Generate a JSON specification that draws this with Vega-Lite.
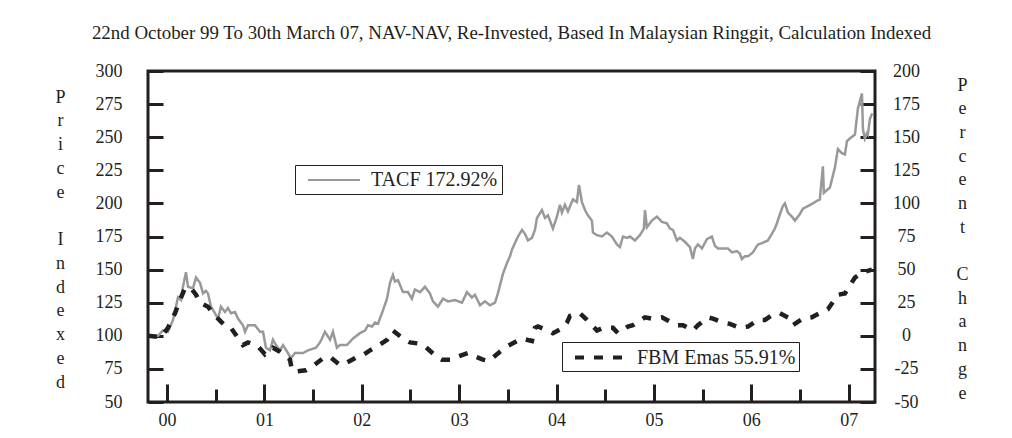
{
  "$schema": "https://vega.github.io/schema/vega-lite/v6.json",
  "width": 727,
  "height": 331,
  "autosize": {"type": "none"},
  "padding": {"left": 148, "top": 71, "right": 137, "bottom": 36},
  "background": "white",
  "title": {
    "text": "22nd October 99 To 30th March 07, NAV-NAV, Re-Invested, Based In Malaysian Ringgit, Calculation Indexed",
    "font": "Liberation Serif",
    "fontSize": 18.9,
    "fontWeight": "normal",
    "color": "#231f20",
    "baseline": "alphabetic",
    "anchor": "middle",
    "frame": "group",
    "offset": 4
  },
  "config": {
    "view": {"stroke": "#231f20", "strokeWidth": 3},
    "axis": {
      "domain": false,
      "grid": false,
      "labelFont": "Liberation Serif",
      "labelFontSize": 18,
      "labelColor": "#231f20",
      "labelFlush": false,
      "labelOverlap": false,
      "tickColor": "#231f20",
      "tickWidth": 3,
      "titleFont": "Liberation Serif",
      "titleFontSize": 18,
      "titleFontWeight": "normal",
      "titleColor": "#231f20"
    },
    "legend": {
      "labelFont": "Liberation Serif",
      "labelFontSize": 20,
      "labelColor": "#231f20",
      "strokeColor": "#231f20",
      "fillColor": "white",
      "orient": "none",
      "title": null
    }
  },
  "datasets": {
    "tacf": [
      {"t": 1999.805, "v": 100}, {"t": 1999.908, "v": 100}, {"t": 1999.959, "v": 104}, {"t": 2000.01, "v": 103},
      {"t": 2000.062, "v": 112}, {"t": 2000.092, "v": 122}, {"t": 2000.113, "v": 129}, {"t": 2000.144, "v": 127},
      {"t": 2000.164, "v": 137}, {"t": 2000.195, "v": 148}, {"t": 2000.216, "v": 137}, {"t": 2000.267, "v": 136},
      {"t": 2000.298, "v": 144}, {"t": 2000.339, "v": 140}, {"t": 2000.37, "v": 132}, {"t": 2000.4, "v": 134},
      {"t": 2000.421, "v": 132}, {"t": 2000.452, "v": 122}, {"t": 2000.493, "v": 117}, {"t": 2000.524, "v": 113},
      {"t": 2000.554, "v": 122}, {"t": 2000.595, "v": 118}, {"t": 2000.626, "v": 121}, {"t": 2000.657, "v": 117},
      {"t": 2000.698, "v": 118}, {"t": 2000.729, "v": 113}, {"t": 2000.78, "v": 108}, {"t": 2000.801, "v": 103},
      {"t": 2000.832, "v": 108}, {"t": 2000.903, "v": 108}, {"t": 2000.955, "v": 103}, {"t": 2000.986, "v": 103},
      {"t": 2001.016, "v": 91}, {"t": 2001.057, "v": 89}, {"t": 2001.088, "v": 97}, {"t": 2001.119, "v": 93},
      {"t": 2001.16, "v": 89}, {"t": 2001.191, "v": 93}, {"t": 2001.242, "v": 87}, {"t": 2001.273, "v": 83},
      {"t": 2001.314, "v": 87}, {"t": 2001.396, "v": 87}, {"t": 2001.448, "v": 89}, {"t": 2001.53, "v": 91},
      {"t": 2001.571, "v": 95}, {"t": 2001.591, "v": 98}, {"t": 2001.622, "v": 103}, {"t": 2001.674, "v": 97},
      {"t": 2001.704, "v": 103}, {"t": 2001.745, "v": 91}, {"t": 2001.776, "v": 93}, {"t": 2001.848, "v": 93},
      {"t": 2001.91, "v": 98}, {"t": 2001.982, "v": 102}, {"t": 2002.033, "v": 104}, {"t": 2002.064, "v": 108},
      {"t": 2002.105, "v": 107}, {"t": 2002.136, "v": 110}, {"t": 2002.166, "v": 109}, {"t": 2002.207, "v": 117},
      {"t": 2002.259, "v": 128}, {"t": 2002.29, "v": 140}, {"t": 2002.32, "v": 146}, {"t": 2002.341, "v": 141},
      {"t": 2002.372, "v": 142}, {"t": 2002.423, "v": 133}, {"t": 2002.474, "v": 133}, {"t": 2002.515, "v": 128},
      {"t": 2002.546, "v": 135}, {"t": 2002.598, "v": 133}, {"t": 2002.649, "v": 137}, {"t": 2002.7, "v": 132},
      {"t": 2002.731, "v": 126}, {"t": 2002.782, "v": 122}, {"t": 2002.834, "v": 128}, {"t": 2002.885, "v": 126},
      {"t": 2002.957, "v": 127}, {"t": 2003.029, "v": 125}, {"t": 2003.08, "v": 133}, {"t": 2003.131, "v": 129},
      {"t": 2003.162, "v": 131}, {"t": 2003.214, "v": 123}, {"t": 2003.265, "v": 126}, {"t": 2003.316, "v": 123},
      {"t": 2003.368, "v": 125}, {"t": 2003.398, "v": 132}, {"t": 2003.45, "v": 147}, {"t": 2003.491, "v": 155},
      {"t": 2003.522, "v": 160}, {"t": 2003.542, "v": 165}, {"t": 2003.573, "v": 170}, {"t": 2003.604, "v": 175},
      {"t": 2003.645, "v": 180}, {"t": 2003.676, "v": 177}, {"t": 2003.706, "v": 172}, {"t": 2003.747, "v": 174},
      {"t": 2003.778, "v": 180}, {"t": 2003.799, "v": 189}, {"t": 2003.85, "v": 195}, {"t": 2003.881, "v": 189},
      {"t": 2003.912, "v": 191}, {"t": 2003.963, "v": 181}, {"t": 2004.004, "v": 190}, {"t": 2004.035, "v": 199},
      {"t": 2004.055, "v": 193}, {"t": 2004.086, "v": 199}, {"t": 2004.117, "v": 194}, {"t": 2004.168, "v": 203},
      {"t": 2004.209, "v": 201}, {"t": 2004.23, "v": 214}, {"t": 2004.261, "v": 201}, {"t": 2004.292, "v": 195},
      {"t": 2004.322, "v": 191}, {"t": 2004.363, "v": 187}, {"t": 2004.374, "v": 178}, {"t": 2004.415, "v": 176},
      {"t": 2004.466, "v": 175}, {"t": 2004.517, "v": 178}, {"t": 2004.569, "v": 175}, {"t": 2004.62, "v": 169},
      {"t": 2004.651, "v": 167}, {"t": 2004.682, "v": 175}, {"t": 2004.723, "v": 174}, {"t": 2004.754, "v": 175},
      {"t": 2004.805, "v": 172}, {"t": 2004.856, "v": 176}, {"t": 2004.897, "v": 181}, {"t": 2004.908, "v": 195},
      {"t": 2004.928, "v": 182}, {"t": 2004.979, "v": 187}, {"t": 2005.031, "v": 190}, {"t": 2005.082, "v": 186},
      {"t": 2005.133, "v": 185}, {"t": 2005.164, "v": 181}, {"t": 2005.195, "v": 180}, {"t": 2005.236, "v": 172},
      {"t": 2005.267, "v": 174}, {"t": 2005.318, "v": 171}, {"t": 2005.37, "v": 167}, {"t": 2005.4, "v": 158},
      {"t": 2005.421, "v": 166}, {"t": 2005.452, "v": 169}, {"t": 2005.493, "v": 166}, {"t": 2005.544, "v": 173},
      {"t": 2005.595, "v": 175}, {"t": 2005.626, "v": 168}, {"t": 2005.657, "v": 166}, {"t": 2005.708, "v": 166},
      {"t": 2005.76, "v": 166}, {"t": 2005.801, "v": 163}, {"t": 2005.852, "v": 164}, {"t": 2005.883, "v": 162},
      {"t": 2005.903, "v": 158}, {"t": 2005.934, "v": 160}, {"t": 2005.965, "v": 160}, {"t": 2006.016, "v": 163},
      {"t": 2006.068, "v": 169}, {"t": 2006.109, "v": 170}, {"t": 2006.17, "v": 172}, {"t": 2006.211, "v": 177},
      {"t": 2006.242, "v": 181}, {"t": 2006.263, "v": 185}, {"t": 2006.294, "v": 192}, {"t": 2006.324, "v": 198},
      {"t": 2006.345, "v": 200}, {"t": 2006.376, "v": 193}, {"t": 2006.417, "v": 190}, {"t": 2006.448, "v": 187},
      {"t": 2006.499, "v": 192}, {"t": 2006.53, "v": 196}, {"t": 2006.581, "v": 198}, {"t": 2006.632, "v": 200},
      {"t": 2006.674, "v": 202}, {"t": 2006.704, "v": 203}, {"t": 2006.735, "v": 228}, {"t": 2006.745, "v": 208},
      {"t": 2006.807, "v": 212}, {"t": 2006.858, "v": 227}, {"t": 2006.889, "v": 241}, {"t": 2006.93, "v": 238},
      {"t": 2006.961, "v": 237}, {"t": 2006.982, "v": 247}, {"t": 2007.012, "v": 249}, {"t": 2007.064, "v": 252},
      {"t": 2007.095, "v": 272}, {"t": 2007.136, "v": 283}, {"t": 2007.146, "v": 256}, {"t": 2007.166, "v": 249},
      {"t": 2007.187, "v": 253}, {"t": 2007.197, "v": 252}, {"t": 2007.218, "v": 264}, {"t": 2007.241, "v": 268}
    ],
    "fbm": [
      {"t": 1999.805, "v": 100}, {"t": 1999.938, "v": 99}, {"t": 2000.01, "v": 106}, {"t": 2000.082, "v": 117},
      {"t": 2000.133, "v": 127}, {"t": 2000.185, "v": 136}, {"t": 2000.246, "v": 136}, {"t": 2000.298, "v": 131},
      {"t": 2000.339, "v": 125}, {"t": 2000.421, "v": 122}, {"t": 2000.472, "v": 117}, {"t": 2000.524, "v": 113},
      {"t": 2000.606, "v": 107}, {"t": 2000.657, "v": 106}, {"t": 2000.78, "v": 93}, {"t": 2000.832, "v": 95},
      {"t": 2000.934, "v": 92}, {"t": 2001.006, "v": 86}, {"t": 2001.088, "v": 91}, {"t": 2001.16, "v": 88},
      {"t": 2001.263, "v": 82}, {"t": 2001.283, "v": 74}, {"t": 2001.324, "v": 73}, {"t": 2001.427, "v": 74},
      {"t": 2001.478, "v": 76}, {"t": 2001.602, "v": 83}, {"t": 2001.674, "v": 84}, {"t": 2001.776, "v": 78},
      {"t": 2001.828, "v": 79}, {"t": 2001.951, "v": 84}, {"t": 2002.002, "v": 85}, {"t": 2002.084, "v": 89},
      {"t": 2002.156, "v": 92}, {"t": 2002.259, "v": 97}, {"t": 2002.32, "v": 104}, {"t": 2002.423, "v": 98},
      {"t": 2002.495, "v": 95}, {"t": 2002.598, "v": 94}, {"t": 2002.649, "v": 92}, {"t": 2002.772, "v": 84},
      {"t": 2002.823, "v": 82}, {"t": 2002.926, "v": 82}, {"t": 2002.977, "v": 84}, {"t": 2003.09, "v": 87},
      {"t": 2003.142, "v": 85}, {"t": 2003.244, "v": 82}, {"t": 2003.306, "v": 81}, {"t": 2003.419, "v": 88},
      {"t": 2003.491, "v": 92}, {"t": 2003.593, "v": 96}, {"t": 2003.645, "v": 98}, {"t": 2003.747, "v": 96},
      {"t": 2003.778, "v": 106}, {"t": 2003.809, "v": 107}, {"t": 2003.912, "v": 104}, {"t": 2003.963, "v": 102},
      {"t": 2004.066, "v": 106}, {"t": 2004.107, "v": 110}, {"t": 2004.138, "v": 115}, {"t": 2004.24, "v": 117},
      {"t": 2004.312, "v": 112}, {"t": 2004.415, "v": 104}, {"t": 2004.476, "v": 106}, {"t": 2004.579, "v": 106},
      {"t": 2004.63, "v": 102}, {"t": 2004.733, "v": 107}, {"t": 2004.784, "v": 108}, {"t": 2004.908, "v": 114},
      {"t": 2004.979, "v": 113}, {"t": 2005.082, "v": 114}, {"t": 2005.133, "v": 112}, {"t": 2005.236, "v": 108},
      {"t": 2005.298, "v": 108}, {"t": 2005.4, "v": 104}, {"t": 2005.452, "v": 108}, {"t": 2005.554, "v": 114},
      {"t": 2005.606, "v": 113}, {"t": 2005.708, "v": 110}, {"t": 2005.78, "v": 109}, {"t": 2005.883, "v": 106},
      {"t": 2005.965, "v": 107}, {"t": 2006.068, "v": 112}, {"t": 2006.14, "v": 112}, {"t": 2006.222, "v": 116},
      {"t": 2006.294, "v": 117}, {"t": 2006.396, "v": 113}, {"t": 2006.427, "v": 108}, {"t": 2006.53, "v": 113},
      {"t": 2006.622, "v": 114}, {"t": 2006.725, "v": 118}, {"t": 2006.786, "v": 120}, {"t": 2006.889, "v": 131},
      {"t": 2006.961, "v": 132}, {"t": 2007.064, "v": 144}, {"t": 2007.146, "v": 148}, {"t": 2007.238, "v": 150}
    ]
  },
  "layer": [
    {
      "data": {"name": "tacf"},
      "mark": {"type": "line", "strokeWidth": 2.5, "clip": true},
      "encoding": {
        "x": {
          "field": "t",
          "type": "quantitative",
          "scale": {"domain": [1999.805, 2007.27], "nice": false, "zero": false},
          "axis": {
            "title": null,
            "values": [2000, 2000.25, 2000.5, 2000.75, 2001, 2001.25, 2001.5, 2001.75, 2002, 2002.25, 2002.5, 2002.75, 2003, 2003.25, 2003.5, 2003.75, 2004, 2004.25, 2004.5, 2004.75, 2005, 2005.25, 2005.5, 2005.75, 2006, 2006.25, 2006.5, 2006.75, 2007],
            "tickSize": {"condition": {"test": "datum.value % 1 === 0", "value": -18}, "value": -13},
            "labelExpr": "datum.value % 1 === 0 ? format(datum.value % 100, '02d') : ''",
            "labelFont": "Liberation Serif",
            "labelFontSize": 18,
            "labelPadding": 27
          }
        },
        "y": {
          "field": "v",
          "type": "quantitative",
          "scale": {"domain": [50, 300], "nice": false, "zero": false},
          "axis": {
            "orient": "left",
            "values": [50, 75, 100, 125, 150, 175, 200, 225, 250, 275, 300],
            "tickSize": -15,
            "labelPadding": 41,
            "labelFont": "Liberation Serif",
            "labelFontSize": 18,
            "title": ["P", "r", "i", "c", "e", "\u200b", "I", "n", "d", "e", "x", "e", "d"],
            "titleAngle": 0,
            "titleAlign": "center",
            "titleBaseline": "middle",
            "titleX": -88,
            "titleY": 26,
            "titleLineHeight": 23.75
          }
        },
        "color": {
          "datum": "TACF 172.92%",
          "scale": {"range": ["#999999"]},
          "legend": {
            "legendX": 147,
            "legendY": 94,
            "padding": 4,
            "labelFont": "Liberation Serif",
            "labelFontSize": 20,
            "symbolType": "M-0.2,0H5",
            "symbolSize": 400,
            "symbolStrokeWidth": 2,
            "labelOffset": 50
          }
        }
      }
    },
    {
      "data": {"name": "fbm"},
      "mark": {"type": "line", "color": "#231f20", "strokeWidth": 4.5, "clip": true},
      "encoding": {
        "x": {"field": "t", "type": "quantitative"},
        "y": {
          "field": "v",
          "type": "quantitative",
          "scale": {"domain": [50, 300], "nice": false, "zero": false},
          "axis": {
            "orient": "right",
            "values": [50, 75, 100, 125, 150, 175, 200, 225, 250, 275, 300],
            "labelExpr": "toString(datum.value - 100)",
            "tickSize": -15,
            "labelPadding": 46,
            "labelAlign": "center",
            "labelFont": "Liberation Serif",
            "labelFontSize": 18,
            "title": ["P", "e", "r", "c", "e", "n", "t", "\u200b", "C", "h", "a", "n", "g", "e"],
            "titleAngle": 0,
            "titleAlign": "center",
            "titleBaseline": "middle",
            "titleX": 87,
            "titleY": 14,
            "titleLineHeight": 23.7
          }
        },
        "strokeDash": {
          "datum": "FBM Emas 55.91%",
          "scale": {"range": [[9, 10]]},
          "legend": {
            "legendX": 414,
            "legendY": 271,
            "padding": 3.5,
            "labelFont": "Liberation Serif",
            "labelFontSize": 20,
            "symbolType": "M-0.25,0H5.05",
            "symbolSize": 400,
            "symbolStrokeWidth": 4,
            "symbolStrokeColor": "#231f20",
            "symbolDash": [11, 9],
            "labelOffset": 47.5
          }
        }
      }
    }
  ],
  "resolve": {"scale": {"y": "independent"}}
}
